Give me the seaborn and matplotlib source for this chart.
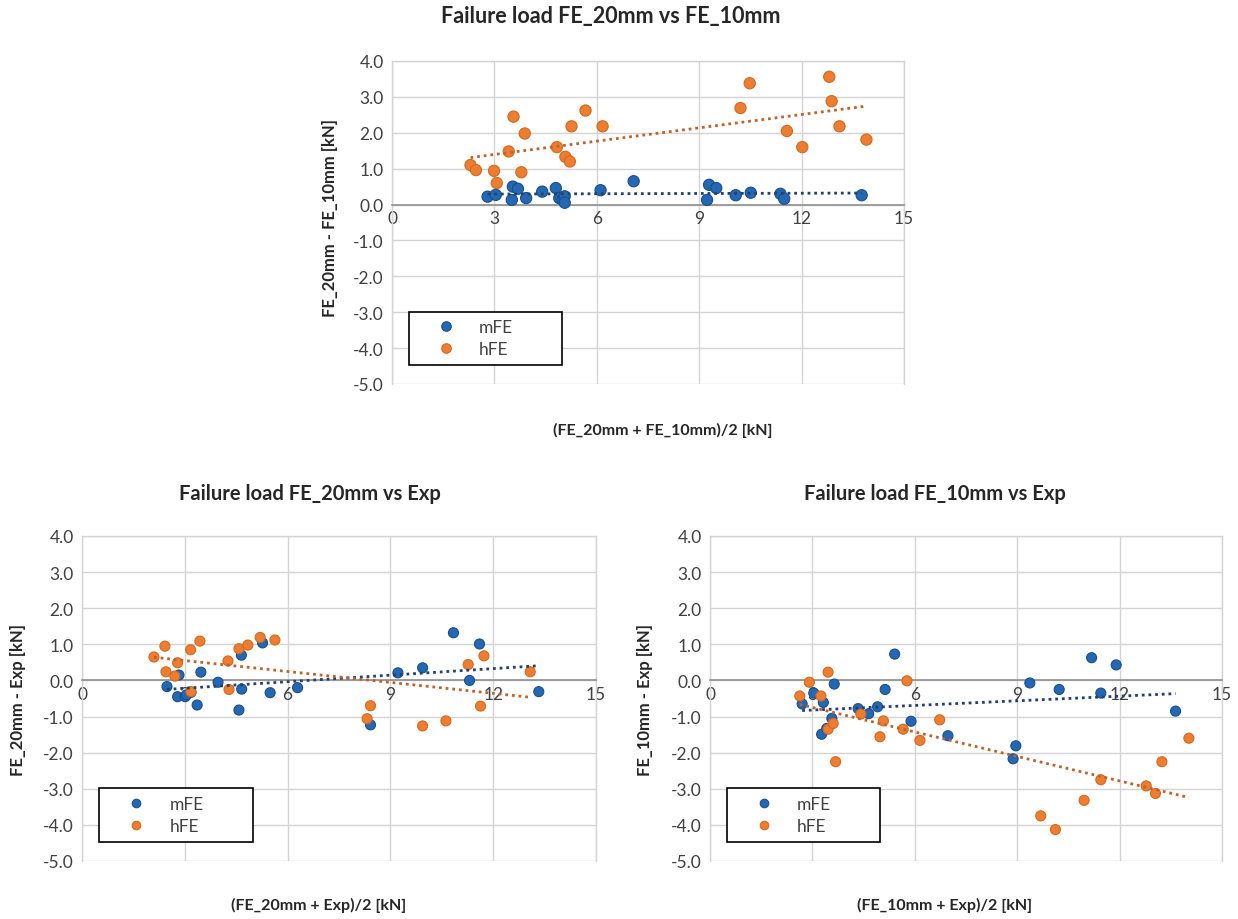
import matplotlib
matplotlib.use("Agg")
import matplotlib.pyplot as plt
import numpy as np
import pandas as pd
import seaborn as sns
from matplotlib.lines import Line2D
from matplotlib.ticker import FormatStrFormatter, MultipleLocator

# --- data (kN) ---
# FE_20mm vs FE_10mm
top_mfe_x = [2.80, 3.04, 3.51, 3.54, 3.69, 3.93, 4.40, 4.80, 4.90, 5.00, 5.06, 5.06,
             6.11, 7.08, 9.23, 9.29, 9.50, 10.07, 10.51, 11.38, 11.49, 13.76]
top_mfe_y = [0.22, 0.27, 0.13, 0.50, 0.44, 0.18, 0.36, 0.46, 0.18, 0.14, 0.23, 0.05,
             0.40, 0.65, 0.13, 0.55, 0.46, 0.26, 0.33, 0.30, 0.16, 0.26]
top_hfe_x = [2.30, 2.46, 2.99, 3.07, 3.42, 3.56, 3.79, 3.89, 4.83, 5.08, 5.21, 5.26,
             5.67, 6.17, 10.21, 10.48, 11.57, 12.02, 12.81, 12.88, 13.11, 13.90]
top_hfe_y = [1.10, 0.96, 0.94, 0.60, 1.48, 2.45, 0.90, 1.98, 1.60, 1.33, 1.20, 2.18,
             2.62, 2.18, 2.69, 3.38, 2.05, 1.60, 3.56, 2.88, 2.18, 1.81]

# FE_20mm vs Exp
bl_mfe_x = [2.48, 2.79, 2.83, 3.01, 3.18, 3.36, 3.47, 3.97, 4.58, 4.65, 4.66, 5.27,
            5.49, 6.29, 8.42, 9.22, 9.94, 10.84, 11.31, 11.60, 13.33, 3.05]
bl_mfe_y = [-0.17, -0.45, 0.15, -0.45, -0.33, -0.68, 0.23, -0.05, -0.82, 0.70, -0.24, 1.04,
            -0.34, -0.20, -1.23, 0.21, 0.35, 1.32, 0.00, 1.01, -0.31, -0.40]
bl_hfe_x = [2.10, 2.42, 2.45, 2.71, 2.79, 3.17, 3.18, 3.44, 4.26, 4.29, 4.58, 4.84,
            5.20, 5.63, 8.32, 8.42, 9.94, 10.62, 11.27, 11.63, 11.73, 13.08]
bl_hfe_y = [0.65, 0.95, 0.24, 0.12, 0.49, 0.85, -0.31, 1.09, 0.54, -0.25, 0.88, 0.98,
            1.19, 1.12, -1.06, -0.70, -1.26, -1.12, 0.44, -0.71, 0.68, 0.24]

# FE_10mm vs Exp
br_mfe_x = [2.70, 3.04, 3.27, 3.32, 3.42, 3.57, 3.64, 4.34, 4.65, 4.91, 5.13, 5.41,
            5.89, 6.97, 8.88, 8.96, 9.37, 10.23, 11.18, 11.45, 11.90, 13.64]
br_mfe_y = [-0.65, -0.35, -1.49, -0.61, -1.33, -1.05, -0.10, -0.78, -0.92, -0.73, -0.25, 0.73,
            -1.13, -1.53, -2.17, -1.81, -0.07, -0.25, 0.63, -0.35, 0.43, -0.85]
br_hfe_x = [2.63, 2.91, 3.25, 3.46, 3.46, 3.61, 3.68, 4.42, 4.98, 5.08, 5.66, 5.77,
            6.15, 6.73, 9.69, 10.12, 10.96, 11.45, 12.78, 13.05, 13.24, 14.03]
br_hfe_y = [-0.43, -0.05, -0.43, 0.23, -1.35, -1.19, -2.25, -0.93, -1.56, -1.12, -1.35, -0.01,
            -1.66, -1.09, -3.75, -4.13, -3.32, -2.75, -2.92, -3.13, -2.25, -1.60]

BLUE, BLUE_EDGE, BLUE_TREND = '#2468B4', '#1A4E8C', '#22406F'
ORANGE, ORANGE_EDGE, ORANGE_TREND = '#ED7D31', '#D4691F', '#C0622B'

sns.set_theme(style='whitegrid')
plt.rcParams['font.family'] = ['Lato', 'DejaVu Sans']

W, H = 1238, 920
fig = plt.figure(figsize=(W / 100, H / 100), dpi=100)


def px_axes(x0, y0, x1, y1):
    return fig.add_axes([x0 / W, 1 - y1 / H, (x1 - x0) / W, (y1 - y0) / H])


def draw_panel(ax, mx, my, hx, hy, title, xlabel, ylabel, t_xy, xl_xy, yl_xy, size, tsize):
    data = pd.concat([
        pd.DataFrame({'x': mx, 'y': my, 'model': 'mFE'}),
        pd.DataFrame({'x': hx, 'y': hy, 'model': 'hFE'}),
    ])
    sns.scatterplot(data=data, x='x', y='y', hue='model', ax=ax, s=size,
                    palette={'mFE': BLUE, 'hFE': ORANGE},
                    edgecolor=[BLUE_EDGE] * len(mx) + [ORANGE_EDGE] * len(hx),
                    linewidth=0.8, zorder=3, legend=False)
    # linear trendlines (dotted, Excel style)
    for xs, ys, c in [(mx, my, BLUE_TREND), (hx, hy, ORANGE_TREND)]:
        sns.regplot(x=np.array(xs), y=np.array(ys), ax=ax, scatter=False, ci=None,
                    truncate=True, line_kws=dict(color=c, lw=2.0, ls=(0, (1, 1.4)), zorder=4))

    ax.set_xlim(0, 15)
    ax.set_ylim(-5, 4)
    ax.xaxis.set_major_locator(MultipleLocator(3))
    ax.yaxis.set_major_locator(MultipleLocator(1))
    ax.yaxis.set_major_formatter(FormatStrFormatter('%.1f'))
    ax.grid(True, color='#D4D4D4', lw=1.0)
    for s in ax.spines.values():
        s.set_color('#D4D4D4')
        s.set_linewidth(1.0)
    ax.spines['bottom'].set_position(('data', 0))
    ax.spines['bottom'].set_color('#8F8F8F')
    ax.spines['bottom'].set_linewidth(1.2)
    ax.tick_params(length=0, labelsize=12.5, colors='#404040')
    ax.tick_params(axis='x', pad=4)
    ax.tick_params(axis='y', pad=6)
    ax.set_xlabel('')
    ax.set_ylabel('')

    ms = np.sqrt(size) * 0.85
    handles = [Line2D([], [], ls='none', marker='o', ms=ms, mfc=BLUE, mec=BLUE_EDGE, mew=0.8),
               Line2D([], [], ls='none', marker='o', ms=ms, mfc=ORANGE, mec=ORANGE_EDGE, mew=0.8)]
    leg = ax.legend(handles=handles, labels=['mFE', 'hFE'], loc='lower left',
                    bbox_to_anchor=(0.033, 0.058, 0.30, 0.15), mode='expand',
                    fontsize=12.5, frameon=True, fancybox=False, edgecolor='black',
                    framealpha=1, borderpad=0.45, labelspacing=0.35,
                    handlelength=3.4, handletextpad=0.2, borderaxespad=0)
    leg.get_frame().set_linewidth(1.2)
    for t in leg.get_texts():
        t.set_color('#404040')

    fig.text(t_xy[0] / W, 1 - t_xy[1] / H, title, ha='center', va='center',
             fontsize=tsize, fontweight='bold', color='#262626')
    fig.text(xl_xy[0] / W, 1 - xl_xy[1] / H, xlabel, ha='center', va='center',
             fontsize=11.5, fontweight='bold', color='#262626')
    fig.text(yl_xy[0] / W, 1 - yl_xy[1] / H, ylabel, ha='center', va='center',
             rotation=90, fontsize=12, fontweight='bold', color='#262626')


ax_top = px_axes(392, 62, 904, 385)
draw_panel(ax_top, top_mfe_x, top_mfe_y, top_hfe_x, top_hfe_y,
           'Failure load FE_20mm vs FE_10mm', '(FE_20mm + FE_10mm)/2 [kN]',
           'FE_20mm - FE_10mm [kN]', (611, 17), (663, 430), (330, 218), 65, 15.5)

ax_bl = px_axes(82, 537, 596, 862)
draw_panel(ax_bl, bl_mfe_x, bl_mfe_y, bl_hfe_x, bl_hfe_y,
           'Failure load FE_20mm vs Exp', '(FE_20mm + Exp)/2 [kN]',
           'FE_20mm - Exp [kN]', (310, 494), (319, 905), (18, 700), 52, 14.5)

ax_br = px_axes(710, 537, 1222, 862)
draw_panel(ax_br, br_mfe_x, br_mfe_y, br_hfe_x, br_hfe_y,
           'Failure load FE_10mm vs Exp', '(FE_10mm + Exp)/2 [kN]',
           'FE_10mm - Exp [kN]', (935, 494), (945, 905), (645, 700), 52, 14.5)

fig.savefig('out.png', dpi=100)
